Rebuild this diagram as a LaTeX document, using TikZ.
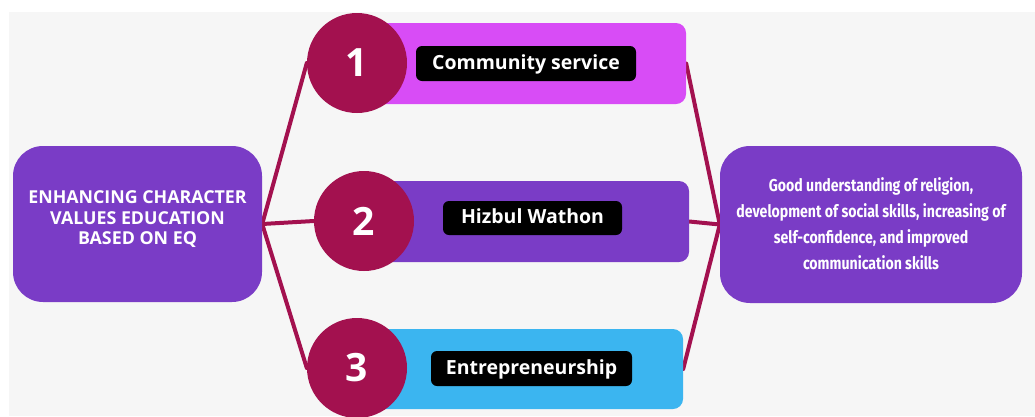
\documentclass[tikz,border=0pt]{standalone}
\usepackage{fontspec}
\setmainfont{Open Sans}
\newfontfamily\condfont{Fira Sans}[FakeStretch=0.82]
\definecolor{pagegray}{HTML}{F6F6F6}
\definecolor{linkred}{HTML}{A3114F}
\definecolor{boxpurple}{HTML}{7A3CC6}
\definecolor{barpink}{HTML}{D84CF6}
\definecolor{barblue}{HTML}{3BB5F0}
\pgfdeclarelayer{back}
\pgfdeclarelayer{links}
\pgfsetlayers{back,links,main}
\tikzset{
  bigbox/.style={fill=boxpurple, rounded corners=30pt, inner sep=0pt},
  boxtext/.style={text=white, align=center, inner sep=0pt},
  bar/.style={rounded corners=10pt, inner sep=0pt},
  numcircle/.style={circle, fill=linkred, minimum size=100pt, inner sep=0pt,
    text=white, font=\fontsize{39}{40}\selectfont\bfseries},
  tag/.style={fill=black, rounded corners=6pt, inner sep=0pt, text=white,
    text height=14pt, text depth=3pt,
    font=\fontsize{19.5}{22}\selectfont\bfseries},
  link/.style={draw=linkred, line width=4pt, line cap=round}
}
\begin{document}
\begin{tikzpicture}[x=1pt,y=-1pt]
\useasboundingbox (0,0) rectangle (1035,416);
\begin{pgfonlayer}{back}
  \fill[white] (0,0) rectangle (1035,416);
  \fill[pagegray] (9,12) rectangle (1035,416);
\end{pgfonlayer}

% main boxes
\node[bigbox, minimum width=249pt, minimum height=156pt] (goal) at (137.5,224) {};
\node[boxtext, font=\fontsize{17.8}{20.5}\selectfont\bfseries] (goaltext) at (137.5,219.5)
  {ENHANCING CHARACTER\\VALUES EDUCATION\\BASED ON EQ};
\node[bigbox, minimum width=302pt, minimum height=157pt] (result) at (871,224.5) {};
\node[boxtext, font=\condfont\fontsize{17.2}{26}\selectfont\bfseries] (resulttext) at (871,224)
  {Good understanding of religion,\\development of social skills, increasing of\\self-confidence, and improved\\communication skills};

% activity bars
\node[bar, fill=barpink, minimum width=329pt, minimum height=81pt] (bar1) at (521.5,63.5) {};
\node[bar, fill=boxpurple, minimum width=326pt, minimum height=81pt] (bar2) at (526,221.5) {};
\node[bar, fill=barblue, minimum width=326pt, minimum height=80pt] (bar3) at (520,369) {};

% numbered circles
\node[numcircle] (c1) at (357,63) {1};
\node[numcircle] (c2) at (364,221) {2};
\node[numcircle] (c3) at (357,368) {3};

% activity labels
\node[tag, minimum width=220pt, minimum height=35pt] (t1) at (526,63.5) {Community service};
\node[tag, minimum width=179pt, minimum height=34pt] (t2) at (532.5,218) {Hizbul Wathon};
\node[tag, minimum width=201pt, minimum height=35pt] (t3) at (531.5,368.5) {Entrepreneurship};

% connectors
\begin{pgfonlayer}{links}
  \draw[link] (goal.east) -- (c1.west);
  \draw[link] (goal.east) -- (c2.west);
  \draw[link] (goal.east) -- (c3.west);
  \draw[link] (bar1.east) -- (result.west);
  \draw[link] (bar2.east) -- (result.west);
  \draw[link] (bar3.east) -- (result.west);
\end{pgfonlayer}
\end{tikzpicture}
\end{document}
